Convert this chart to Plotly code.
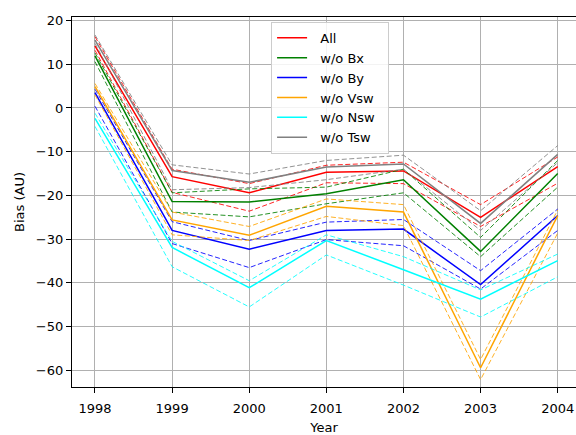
import plotly.graph_objects as go

years = [1998, 1999, 2000, 2001, 2002, 2003, 2004]
series_names = ["All", "w/o Bx", "w/o By", "w/o Vsw", "w/o Nsw", "w/o Tsw"]
series_colors = ["#ff0000", "#008000", "#0000ff", "#ffa500", "#00ffff", "#808080"]

all_mean = [14.2, -15.7, -19.4, -14.7, -14.4, -25.0, -13.4]
all_upper = [16.3, -14.0, -17.3, -13.1, -12.4, -22.1, -11.2]
all_lower = [13.2, -19.3, -23.6, -17.1, -17.3, -27.1, -17.2]

bx_mean = [11.9, -21.4, -21.5, -19.6, -16.4, -32.8, -15.0]
bx_upper = [12.6, -19.4, -18.5, -18.1, -14.0, -29.6, -12.0]
bx_lower = [10.6, -23.8, -24.9, -21.9, -19.4, -34.0, -18.1]

by_mean = [3.5, -28.0, -32.3, -28.0, -27.7, -40.4, -24.6]
by_upper = [4.3, -26.0, -30.3, -26.1, -25.5, -37.2, -23.1]
by_lower = [0.4, -31.0, -36.5, -30.1, -31.5, -41.4, -28.0]

vsw_mean = [4.9, -25.6, -29.1, -22.5, -23.8, -59.4, -24.6]
vsw_upper = [5.6, -23.8, -27.1, -20.8, -22.1, -57.5, -23.3]
vsw_lower = [3.0, -29.0, -30.3, -24.8, -26.9, -62.1, -28.6]

nsw_mean = [-2.4, -31.9, -41.1, -30.3, -37.0, -43.7, -34.9]
nsw_upper = [-1.2, -30.5, -39.5, -29.0, -34.0, -41.6, -33.4]
nsw_lower = [-4.2, -36.3, -45.5, -33.6, -40.5, -47.8, -38.6]

tsw_mean = [15.5, -14.3, -17.0, -13.5, -12.8, -26.4, -10.6]
tsw_upper = [16.7, -13.0, -15.1, -12.0, -10.8, -23.5, -8.6]
tsw_lower = [14.8, -18.7, -18.2, -16.4, -14.0, -28.0, -12.5]

means = [all_mean, bx_mean, by_mean, vsw_mean, nsw_mean, tsw_mean]
uppers = [all_upper, bx_upper, by_upper, vsw_upper, nsw_upper, tsw_upper]
lowers = [all_lower, bx_lower, by_lower, vsw_lower, nsw_lower, tsw_lower]

fig = go.Figure()
for name, color, m, u, lo in zip(series_names, series_colors, means, uppers, lowers):
    fig.add_trace(go.Scatter(x=years, y=m, mode="lines", name="  " + name + "  ",
                             line=dict(color=color, width=1.5)))
    for d in (u, lo):
        fig.add_trace(go.Scatter(x=years, y=d, mode="lines", showlegend=False,
                                 opacity=0.85, hoverinfo="skip",
                                 line=dict(color=color, width=1, dash="5px,2.5px")))

axis_common = dict(showline=True, linecolor="black", linewidth=1.2, mirror=True,
                   ticks="outside", ticklen=5, tickcolor="black", tickwidth=1,
                   showgrid=True, gridcolor="#b0b0b0", gridwidth=1, zeroline=False,
                   tickfont=dict(size=13, color="black"), automargin=False)

fig.update_layout(
    width=576, height=435,
    margin=dict(l=72, r=0, t=17, b=48),
    paper_bgcolor="white", plot_bgcolor="white",
    font=dict(family="DejaVu Sans", size=13, color="black"),
    xaxis=dict(range=[1997.702, 2004.237], tickmode="array", tickvals=years,
               ticktext=[str(y) for y in years], ticklabelstandoff=4,
               title=dict(text="Year", font=dict(size=13), standoff=14), **axis_common),
    yaxis=dict(range=[-63.8, 20.8], tickmode="array",
               tickvals=[20, 10, 0, -10, -20, -30, -40, -50, -60],
               title=dict(text="Bias (AU)", font=dict(size=13), standoff=8), **axis_common),
    legend=dict(x=0.395, y=0.987, xanchor="left", yanchor="top",
                bgcolor="rgba(255,255,255,0.85)", bordercolor="#cccccc", borderwidth=1,
                font=dict(size=13), itemwidth=30, tracegroupgap=0),
    showlegend=True,
)

fig.write_html("out.html")
